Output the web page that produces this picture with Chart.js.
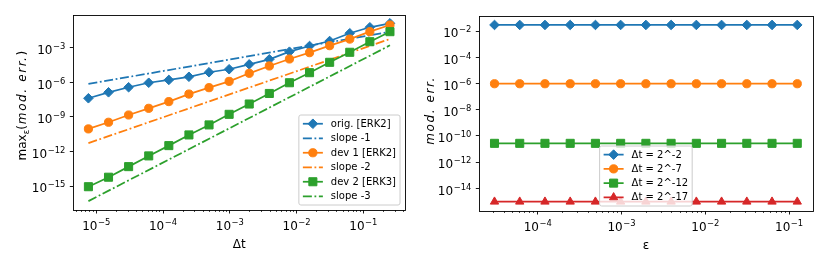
<!DOCTYPE html>
<html><head><meta charset="utf-8">
<script src="https://cdn.jsdelivr.net/npm/chart.js@4/dist/chart.umd.min.js"></script>
<style>
html,body{margin:0;padding:0;background:#fff;}
#wrap{position:relative;width:828px;height:265px;overflow:hidden;}
canvas{position:absolute;top:0;}
</style></head><body>
<div id="wrap">
<canvas id="left" width="414" height="265" style="left:0"></canvas>
<canvas id="right" width="414" height="265" style="left:414px"></canvas>
</div>
<script>
// ---------- data: left panel (max over eps of modified error vs dt) ----------
const dt = [7.62939453125e-6, 1.52587890625e-5, 3.0517578125e-5, 6.103515625e-5, 1.220703125e-4, 2.44140625e-4, 4.8828125e-4, 9.765625e-4, 1.953125e-3, 3.90625e-3, 7.8125e-3, 1.5625e-2, 3.125e-2, 6.25e-2, 0.125, 0.25];
const origERK2 = [4.1e-8, 1.35e-7, 3.7e-7, 9.1e-7, 1.6e-6, 3.0e-6, 7.4e-6, 1.35e-5, 3.6e-5, 9.8e-5, 4.5e-4, 1.4e-3, 3.8e-3, 1.8e-2, 5.9e-2, 1.3e-1];
const dev1ERK2 = [9.0e-11, 3.4e-10, 1.45e-9, 5.5e-9, 2.1e-8, 9.5e-8, 3.4e-7, 1.2e-6, 6.0e-6, 2.6e-5, 1.05e-4, 3.7e-4, 1.5e-3, 5.6e-3, 2.45e-2, 9.3e-2];
const dev2ERK3 = [8.7e-16, 5.8e-15, 4.8e-14, 4.1e-13, 3.2e-12, 2.7e-11, 2.0e-10, 1.66e-9, 1.3e-8, 1.07e-7, 9.1e-7, 6.8e-6, 5.4e-5, 4.0e-4, 3.3e-3, 2.45e-2];
const slopeDt = [7.62939453125e-6, 0.25];
const slope1 = [7.2e-7, 2.4e-2];
const slope2 = [5.3e-12, 5.7e-3];
const slope3 = [4.9e-17, 1.6e-3];
const leftLabels = ['orig. [ERK2]', 'slope -1', 'dev 1 [ERK2]', 'slope -2', 'dev 2 [ERK3]', 'slope -3'];
const leftXTickExps = [-5, -4, -3, -2, -1];
const leftYTickExps = [-15, -12, -9, -6, -3];

// ---------- data: right panel (modified error vs eps) ----------
const eps = [3.0517578125e-5, 6.103515625e-5, 1.220703125e-4, 2.44140625e-4, 4.8828125e-4, 9.765625e-4, 1.953125e-3, 3.90625e-3, 7.8125e-3, 1.5625e-2, 3.125e-2, 6.25e-2, 0.125];
const errDt2 = [2.9e-2, 2.9e-2, 2.9e-2, 2.9e-2, 2.9e-2, 2.9e-2, 2.9e-2, 2.9e-2, 2.9e-2, 2.9e-2, 2.9e-2, 2.9e-2, 2.9e-2];
const errDt7 = [9.5e-7, 9.5e-7, 9.5e-7, 9.5e-7, 9.5e-7, 9.5e-7, 9.5e-7, 9.5e-7, 9.5e-7, 9.5e-7, 9.5e-7, 9.5e-7, 9.5e-7];
const errDt12 = [2.7e-11, 2.7e-11, 2.7e-11, 2.7e-11, 2.7e-11, 2.7e-11, 2.7e-11, 2.7e-11, 2.7e-11, 2.7e-11, 2.7e-11, 2.7e-11, 2.7e-11];
const errDt17 = [9.5e-16, 9.5e-16, 9.5e-16, 9.5e-16, 9.5e-16, 9.5e-16, 9.5e-16, 9.5e-16, 9.5e-16, 9.5e-16, 9.5e-16, 9.5e-16, 9.5e-16];
const rightLabels = ['\u0394t = 2^-2', '\u0394t = 2^-7', '\u0394t = 2^-12', '\u0394t = 2^-17'];
const rightXTickExps = [-4, -3, -2, -1];
const rightYTickExps = [-14, -12, -10, -8, -6, -4, -2];

// ---------- styling ----------
const FONT = '"DejaVu Sans", sans-serif';
Chart.defaults.font.family = FONT;
Chart.defaults.font.size = 10;
Chart.defaults.color = '#000';
const C = ['#1f77b4', '#ff7f0e', '#2ca02c', '#d62728'];
const LW = 1.75;
const DASHDOT = [9, 2.6, 1.8, 2.6];
const MK = { rectRot: 4.8, circle: 4.1, rect: 5.7, triangle: 4.8 };
const TICK_FS = 12, SUP_FS = 8.4, TITLE_FS = 12, LEG_FS = 10;

function pts(xs, ys) { return xs.map((x, i) => ({x: x, y: ys[i]})); }

function markerSet(label, xs, ys, color, style, idx) {
  return { label, data: pts(xs, ys), borderColor: color, backgroundColor: color,
    borderWidth: LW, pointStyle: style, pointRadius: MK[style], pointHoverRadius: MK[style],
    pointBorderWidth: 1, pointBorderColor: color, pointBackgroundColor: color,
    tension: 0, fill: false, order: -idx, clip: false };
}
function slopeSet(label, xs, ys, color, idx) {
  return { label, data: pts(xs, ys), borderColor: color, backgroundColor: color,
    borderWidth: LW, borderDash: DASHDOT, pointRadius: 0, pointHoverRadius: 0,
    tension: 0, fill: false, order: -idx };
}

function axisTicks(min, max, majorExps, withMinor) {
  const t = [];
  const lo = Math.floor(Math.log10(min)), hi = Math.ceil(Math.log10(max));
  for (let e = lo; e <= hi; e++) for (let m = 1; m <= 9; m++) {
    const v = m * Math.pow(10, e);
    if (v < min || v > max) continue;
    const isMajor = (m === 1 && majorExps.includes(e));
    if (isMajor || (withMinor && m > 1)) t.push({value: v, major: isMajor, label: ''});
  }
  return t;
}

function makeScale(min, max, exps, withMinor, sizeKey, size) {
  return {
    type: 'logarithmic', min, max, bounds: 'data',
    afterBuildTicks: s => { s.ticks = axisTicks(min, max, exps, withMinor); },
    afterFit: s => { s[sizeKey] = size; },
    ticks: { display: false, autoSkip: false },
    border: { display: false },
    grid: { display: true, drawOnChartArea: false, drawTicks: true, tickLength: 3.5,
      tickColor: '#000',
      tickWidth: c => (c.tick && c.tick.major) ? 0.9 : 0.7,
      tickBorderDash: c => (c.tick && c.tick.major) ? [] : [2, 10] }
  };
}

function powLabel(ctx, x, y, e, align) {
  const base = '10', sup = (e < 0 ? '\u2212' : '') + Math.abs(e);
  ctx.font = `${TICK_FS}px ${FONT}`; const wb = ctx.measureText(base).width;
  ctx.font = `${SUP_FS}px ${FONT}`; const ws = ctx.measureText(sup).width;
  const w = wb + ws + 0.5;
  const x0 = align === 'center' ? x - w / 2 : x - w;
  ctx.textAlign = 'left'; ctx.textBaseline = 'alphabetic';
  ctx.font = `${TICK_FS}px ${FONT}`; ctx.fillText(base, x0, y);
  ctx.font = `${SUP_FS}px ${FONT}`; ctx.fillText(sup, x0 + wb + 0.5, y - 5);
}

function drawRuns(ctx, bx, cy, runs) {
  ctx.save();
  ctx.translate(bx, cy); ctx.rotate(-Math.PI / 2);
  ctx.textAlign = 'left'; ctx.textBaseline = 'alphabetic';
  let total = 0;
  runs.forEach(r => { ctx.font = r.f; ctx.letterSpacing = (r.ls || 0) + 'px'; r.w = ctx.measureText(r.t).width; total += r.w; });
  let x = -total / 2;
  runs.forEach(r => { ctx.font = r.f; ctx.letterSpacing = (r.ls || 0) + 'px'; ctx.fillText(r.t, x, r.dy || 0); x += r.w; });
  ctx.letterSpacing = '0px';
  ctx.restore();
}

function drawLegend(ctx, ca, lg) {
  const pad = 4, handleLen = 20, textPad = 8, axPad = 5, spacing = 5, rowH = lg.rowH;
  ctx.font = `${LEG_FS}px ${FONT}`;
  const tw = Math.max(...lg.items.map(it => ctx.measureText(it.label).width));
  const w = pad * 2 + handleLen + textPad + tw;
  const h = pad * 2 + lg.items.length * rowH + (lg.items.length - 1) * spacing;
  const x = lg.loc === 'lower right' ? ca.right - axPad - w : (ca.left + ca.right) / 2 - w / 2;
  const y = ca.bottom - axPad - h;
  ctx.save();
  ctx.beginPath();
  ctx.roundRect(x, y, w, h, 2);
  ctx.fillStyle = 'rgba(255,255,255,0.8)'; ctx.fill();
  ctx.strokeStyle = '#cccccc'; ctx.lineWidth = 1; ctx.stroke();
  lg.items.forEach((it, i) => {
    const cy = y + pad + rowH / 2 + i * (rowH + spacing);
    const hx = x + pad;
    ctx.strokeStyle = it.color; ctx.fillStyle = it.color; ctx.lineWidth = LW;
    ctx.setLineDash(it.dash || []);
    ctx.beginPath(); ctx.moveTo(hx, cy); ctx.lineTo(hx + handleLen, cy); ctx.stroke();
    ctx.setLineDash([]);
    if (it.ps) {
      ctx.lineWidth = 1;
      Chart.helpers.drawPoint(ctx, {pointStyle: it.ps, radius: MK[it.ps], rotation: 0, borderWidth: 1}, hx + handleLen / 2, cy);
    }
    ctx.fillStyle = '#000'; ctx.font = `${LEG_FS}px ${FONT}`;
    ctx.textAlign = 'left'; ctx.textBaseline = 'middle';
    ctx.fillText(it.label, hx + handleLen + textPad, cy + 0.5);
  });
  ctx.restore();
}

function makeDeco(cfg) {
  return { id: 'deco', afterDraw(chart) {
    const ctx = chart.ctx, ca = chart.chartArea, xs = chart.scales.x, ys = chart.scales.y;
    ctx.save();
    ctx.strokeStyle = '#000'; ctx.lineWidth = 0.9;
    ctx.strokeRect(Math.round(ca.left) + 0.5, Math.round(ca.top) + 0.5,
      Math.round(ca.right) - Math.round(ca.left), Math.round(ca.bottom) - Math.round(ca.top));
    ctx.fillStyle = '#000';
    cfg.xExps.forEach(e => powLabel(ctx, xs.getPixelForValue(Math.pow(10, e)), ca.bottom + 19.5, e, 'center'));
    cfg.yExps.forEach(e => powLabel(ctx, ca.left - 8, ys.getPixelForValue(Math.pow(10, e)) + 6.3, e, 'right'));
    ctx.font = `${TITLE_FS}px ${FONT}`; ctx.textAlign = 'center'; ctx.textBaseline = 'alphabetic';
    ctx.fillText(cfg.xTitle, (ca.left + ca.right) / 2, ca.bottom + 38);
    drawRuns(ctx, cfg.yTitleX, (ca.top + ca.bottom) / 2 + (cfg.yTitleDy || 0), cfg.yTitle);
    drawLegend(ctx, ca, cfg.legend);
    ctx.restore();
  }};
}

const baseOpts = (padding, scales) => ({
  responsive: false, devicePixelRatio: 1, animation: false, events: [],
  layout: { padding },
  plugins: { legend: { display: false }, tooltip: { enabled: false } },
  scales
});

// ---------- left chart ----------
new Chart(document.getElementById('left'), {
  type: 'line',
  data: { datasets: [
    markerSet(leftLabels[0], dt, origERK2, C[0], 'rectRot', 0),
    slopeSet(leftLabels[1], slopeDt, slope1, C[0], 1),
    markerSet(leftLabels[2], dt, dev1ERK2, C[1], 'circle', 2),
    slopeSet(leftLabels[3], slopeDt, slope2, C[1], 3),
    markerSet(leftLabels[4], dt, dev2ERK3, C[2], 'rect', 4),
    slopeSet(leftLabels[5], slopeDt, slope3, C[2], 5)
  ]},
  options: baseOpts({ top: 15.3, right: 9, left: 0, bottom: 0 }, {
    x: Object.assign(makeScale(4.53e-6, 0.42, leftXTickExps, true, 'height', 55), { position: 'bottom' }),
    y: Object.assign(makeScale(8.3e-18, 0.646, leftYTickExps, false, 'width', 73.3), { position: 'left' })
  }),
  plugins: [makeDeco({
    xExps: leftXTickExps, yExps: leftYTickExps, xTitle: '\u0394t', yTitleX: 26, yTitleDy: -7,
    yTitle: [
      {t: 'max', f: `${TITLE_FS}px ${FONT}`},
      {t: '\u03b5', f: `${SUP_FS}px ${FONT}`, dy: 3},
      {t: '(', f: `${TITLE_FS}px ${FONT}`, ls: 1},
      {t: 'mod. err.', f: `italic ${TITLE_FS}px ${FONT}`, ls: 1.6},
      {t: ')', f: `${TITLE_FS}px ${FONT}`}
    ],
    legend: { loc: 'lower right', rowH: 9.5, items: [
      {label: leftLabels[0], color: C[0], ps: 'rectRot'},
      {label: leftLabels[1], color: C[0], dash: DASHDOT},
      {label: leftLabels[2], color: C[1], ps: 'circle'},
      {label: leftLabels[3], color: C[1], dash: DASHDOT},
      {label: leftLabels[4], color: C[2], ps: 'rect'},
      {label: leftLabels[5], color: C[2], dash: DASHDOT}
    ]}
  })]
});

// ---------- right chart ----------
new Chart(document.getElementById('right'), {
  type: 'line',
  data: { datasets: [
    markerSet(rightLabels[0], eps, errDt2, C[0], 'rectRot', 0),
    markerSet(rightLabels[1], eps, errDt7, C[1], 'circle', 1),
    markerSet(rightLabels[2], eps, errDt12, C[2], 'rect', 2),
    markerSet(rightLabels[3], eps, errDt17, C[3], 'triangle', 3)
  ]},
  options: baseOpts({ top: 15.7, right: 15.5, left: 0, bottom: 0 }, {
    x: Object.assign(makeScale(2.01e-5, 0.19, rightXTickExps, true, 'height', 54), { position: 'bottom' }),
    y: Object.assign(makeScale(1.86e-16, 0.147, rightYTickExps, false, 'width', 65.3), { position: 'left' })
  }),
  plugins: [makeDeco({
    xExps: rightXTickExps, yExps: rightYTickExps, xTitle: '\u03b5', yTitleX: 19.5, yTitleDy: -3,
    yTitle: [ {t: 'mod. err.', f: `italic ${TITLE_FS}px ${FONT}`, ls: 1.6} ],
    legend: { loc: 'lower center', rowH: 9.25, items: [
      {label: rightLabels[0], color: C[0], ps: 'rectRot'},
      {label: rightLabels[1], color: C[1], ps: 'circle'},
      {label: rightLabels[2], color: C[2], ps: 'rect'},
      {label: rightLabels[3], color: C[3], ps: 'triangle'}
    ]}
  })]
});
</script>
</body></html>
